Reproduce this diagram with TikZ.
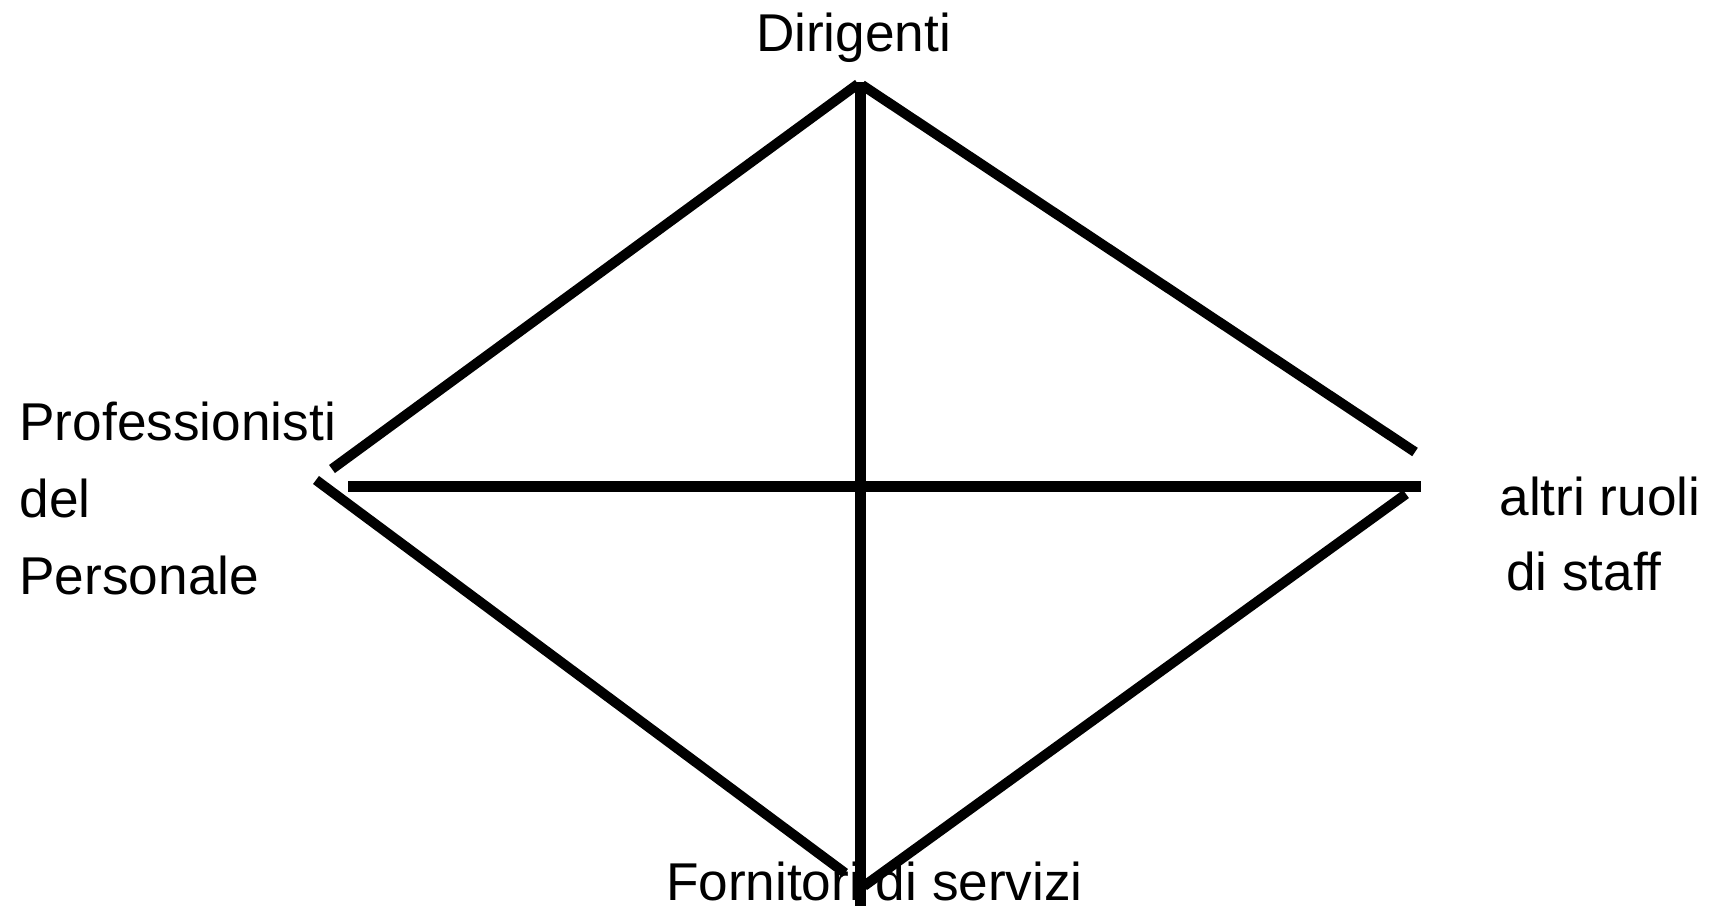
\documentclass[tikz,border=0pt]{standalone}
\usepackage{fontspec}
\setmainfont{Liberation Sans}
\begin{document}
\begin{tikzpicture}[x=0.5pt,y=-0.5pt,
  edge/.style={line width=5pt,draw=black,line cap=butt},
  axis/.style={line width=5.5pt,draw=black,line cap=butt},
  lbl/.style={anchor=base west,inner sep=0pt,outer sep=0pt,font=\fontsize{26.6}{32}\selectfont}]
\useasboundingbox (0,0) rectangle (1710,906);
% labels
\node[lbl] (dir) at (756,51.5) {Dirigenti};
\node[lbl] (pro1) at (19.5,440.5) {Professionisti};
\node[lbl] (pro2) at (19.5,517.5) {del};
\node[lbl] (pro3) at (19.5,594) {Personale};
\node[lbl] (alt1) at (1499.5,515) {altri ruoli};
\node[lbl] (alt2) at (1506,590) {di staff};
\node[lbl] (for) at (666,900) {Fornitori di servizi};
% endpoints
\coordinate (topL) at (858,84);
\coordinate (topR) at (862,85);
\coordinate (vtop) at (860.5,82);
\coordinate (vbot) at (860.5,906);
\coordinate (lu) at (332,469);
\coordinate (ll) at (316,480);
\coordinate (hl) at (348,486);
\coordinate (hr) at (1421,486);
\coordinate (ru) at (1415,452);
\coordinate (rl) at (1406,494);
\coordinate (botL) at (845,873);
\coordinate (botR) at (864,886);
% connectors
\draw[edge] (lu) -- (topL);
\draw[edge] (topR) -- (ru);
\draw[edge] (ll) -- (botL);
\draw[edge] (rl) -- (botR);
\draw[axis] (hl) -- (hr);
\draw[axis] (vtop) -- (vbot);
\end{tikzpicture}
\end{document}
